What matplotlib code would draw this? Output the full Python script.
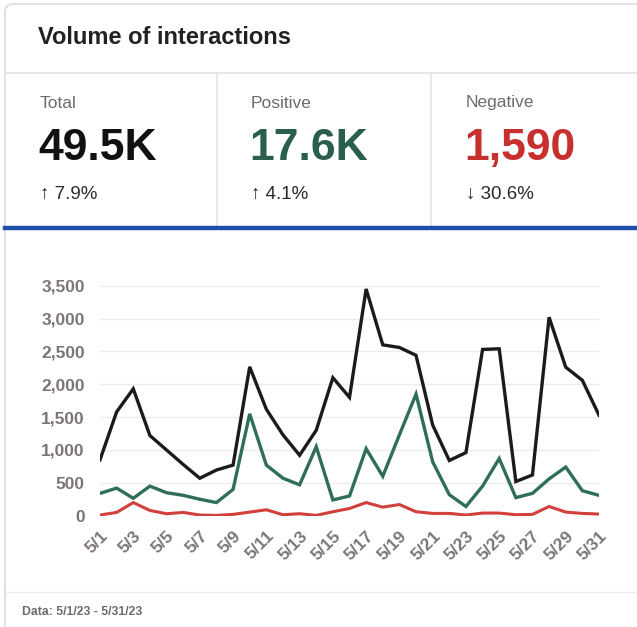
import matplotlib
matplotlib.use("Agg")
import matplotlib.pyplot as plt
from matplotlib.patches import FancyBboxPatch
from matplotlib.lines import Line2D

plt.rcParams['font.family'] = ['Liberation Sans', 'DejaVu Sans']

W, H = 637, 627

# daily values, May 2023
days = list(range(1, 32))
total = [850, 1580, 1930, 1220, 1000, 780, 570, 695, 770, 2265, 1620, 1230, 920, 1300,
         2100, 1800, 3450, 2600, 2560, 2440, 1380, 840, 960, 2530, 2540, 520, 620, 3020,
         2260, 2060, 1530]
positive = [340, 420, 265, 450, 350, 310, 250, 200, 400, 1550, 770, 570, 470, 1050,
            240, 300, 1020, 600, 1230, 1850, 820, 320, 140, 450, 870, 275, 340, 560,
            740, 380, 310]
negative = [10, 50, 200, 80, 30, 50, 10, 5, 20, 55, 90, 15, 30, 5,
            60, 110, 200, 130, 170, 60, 35, 35, 10, 40, 40, 15, 20, 140, 55, 35, 25]

kpi_labels = ["Total", "Positive", "Negative"]
kpi_values = ["49.5K", "17.6K", "1,590"]
kpi_changes = ["\u2191 7.9%", "\u2191 4.1%", "\u2193 30.6%"]
kpi_colors = ["#111111", "#2a5f4d", "#c8302e"]

BLACK = "#1c1a1e"
GREEN = "#2f6e5b"
RED = "#d2403c"
GRAY = "#7b757a"
LINE = "#e3e3e3"


def fx(x):
    return x / W


def fy(y):
    return 1 - y / H


fig = plt.figure(figsize=(W / 100, H / 100), dpi=100)
fig.patch.set_facecolor("white")

# card outline (right/bottom edges run off the canvas)
card = FancyBboxPatch((fx(5), fy(660)), fx(700), 656 / H,
                      boxstyle="round,pad=0,rounding_size=0.013",
                      transform=fig.transFigure, facecolor="white",
                      edgecolor="#dcdcdc", linewidth=1.2, zorder=-10)
fig.patches.append(card)

fig.text(fx(38), fy(38), "Volume of interactions", fontsize=17, fontweight="bold",
         color="#222222", va="center", ha="left")

# dividers
fig.add_artist(Line2D([fx(5), 1], [fy(73), fy(73)], color=LINE, lw=1.2))
for xv in (217, 431):
    fig.add_artist(Line2D([fx(xv), fx(xv)], [fy(73), fy(226)], color=LINE, lw=1.2))
fig.add_artist(Line2D([fx(5), 1], [fy(228), fy(228)], color="#1f4fa8", lw=3.2))
fig.add_artist(Line2D([fx(5), 1], [fy(592), fy(592)], color="#ececec", lw=1.0))

xs = [40, 251, 466]
for i in range(3):
    fig.text(fx(xs[i]), fy(103), kpi_labels[i], fontsize=12.5, color="#6f6a6e",
             va="center", ha="left")
    fig.text(fx(xs[i] - 2), fy(148), kpi_values[i], fontsize=32, fontweight="bold",
             color=kpi_colors[i], va="center", ha="left")
    fig.text(fx(xs[i]), fy(194), kpi_changes[i], fontsize=13.5, color="#2a2a2a",
             va="center", ha="left")

fig.text(fx(22), fy(612), "Data: 5/1/23 - 5/31/23", fontsize=8.8, fontweight="bold",
         color="#6f6a6e", va="center", ha="left")

# line chart
ax = fig.add_axes([fx(100), fy(515.7), fx(599) - fx(100), (515.7 - 285.7) / H])
ax.patch.set_alpha(0)
ax.plot(days, total, color=BLACK, lw=2.4, solid_joinstyle="miter", zorder=3)
ax.plot(days, positive, color=GREEN, lw=2.4, solid_joinstyle="miter", zorder=3)
ax.plot(days, negative, color=RED, lw=2.2, solid_joinstyle="miter", zorder=3)

ax.set_xlim(1, 31)
ax.set_ylim(0, 3500)
ax.set_yticks(range(0, 3501, 500))
ax.set_yticklabels([f"{v:,}" for v in range(0, 3501, 500)])
ax.set_xticks(days[::2])
ax.set_xticklabels([f"5/{d}" for d in days[::2]], rotation=45, ha="right",
                   rotation_mode="anchor")
ax.grid(axis="y", color="#ececec", lw=1.0)
ax.set_axisbelow(True)
for s in ax.spines.values():
    s.set_visible(False)
ax.tick_params(axis="both", length=0, labelsize=12.5, labelcolor=GRAY)
ax.tick_params(axis="y", pad=11)
ax.tick_params(axis="x", pad=9)
for lab in ax.get_xticklabels() + ax.get_yticklabels():
    lab.set_fontweight("bold")

fig.savefig("out.png", dpi=100)
